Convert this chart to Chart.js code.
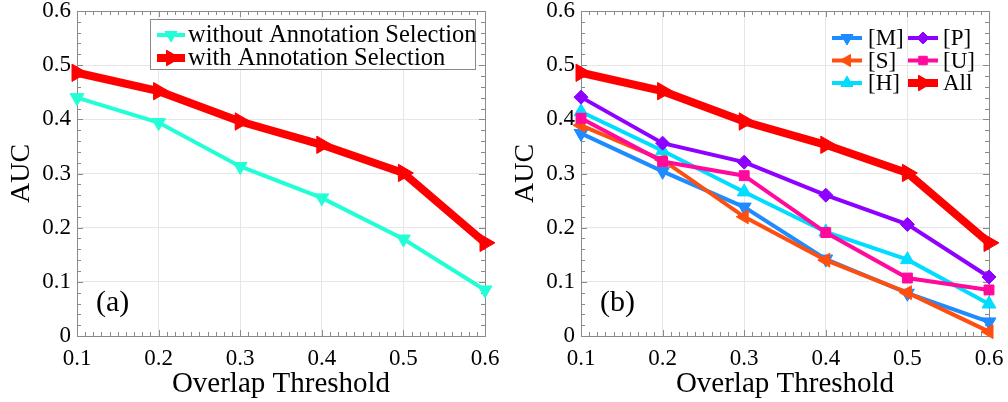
<!DOCTYPE html>
<html>
<head>
<meta charset="utf-8">
<script src="https://cdn.jsdelivr.net/npm/chart.js@4/dist/chart.umd.min.js"></script>
<style>
  html, body { margin: 0; padding: 0; background: #fff; }
  #wrap { position: relative; width: 1008px; height: 402px; }
  .panel { position: absolute; top: 0; width: 504px; height: 402px; }
</style>
</head>
<body>
<div id="wrap">
  <div class="panel" style="left:0"><canvas id="ca" width="504" height="402"></canvas></div>
  <div class="panel" style="left:504px"><canvas id="cb" width="504" height="402"></canvas></div>
</div>
<script>
// ---- data ----
const thresholds = [0.1, 0.2, 0.3, 0.4, 0.5, 0.6];
const xTickLabels = ['0.1', '0.2', '0.3', '0.4', '0.5', '0.6'];
const yTickLabels = ['0', '0.1', '0.2', '0.3', '0.4', '0.5', '0.6'];
const withoutSel = [0.440, 0.394, 0.313, 0.255, 0.179, 0.085];
const withSel    = [0.486, 0.452, 0.396, 0.353, 0.301, 0.172];
const seriesM    = [0.374, 0.304, 0.238, 0.142, 0.079, 0.026];
const seriesS    = [0.389, 0.325, 0.220, 0.140, 0.080, 0.008];
const seriesH    = [0.414, 0.342, 0.266, 0.192, 0.141, 0.059];
const seriesP    = [0.441, 0.356, 0.321, 0.260, 0.206, 0.109];
const seriesU    = [0.402, 0.322, 0.296, 0.191, 0.107, 0.085];
const seriesAll  = [0.486, 0.452, 0.396, 0.353, 0.301, 0.172];

const FONT = '"Liberation Serif", "DejaVu Serif", serif';
const pts = arr => arr.map((v, i) => ({ x: thresholds[i], y: v }));

function ds(label, arr, color, width, style, rot, r, order) {
  return {
    label, data: pts(arr), borderColor: color, backgroundColor: color,
    borderWidth: width, pointStyle: style, rotation: rot, pointRadius: r,
    pointHoverRadius: r, pointBorderWidth: 1, pointBorderColor: color,
    pointBackgroundColor: color, tension: 0, clip: false, order
  };
}

// frame + inside ticks
const framePlugin = {
  id: 'frame',
  beforeDatasetsDraw(chart) {
    const { ctx, chartArea: a, scales: { x, y } } = chart;
    ctx.save();
    ctx.strokeStyle = '#8a8a8a';
    ctx.lineWidth = 1;
    ctx.beginPath();
    for (let k = 0; k <= 50; k++) {
      const v = 0.1 + k * 0.01;
      const px = Math.round(x.getPixelForValue(v)) + 0.5;
      const len = (k % 10 === 0) ? 6 : 4;
      ctx.moveTo(px, a.bottom); ctx.lineTo(px, a.bottom - len);
      ctx.moveTo(px, a.top); ctx.lineTo(px, a.top + len);
    }
    for (let k = 0; k <= 30; k++) {
      const v = k * 0.02;
      const py = Math.round(y.getPixelForValue(v)) + 0.5;
      const len = (k % 5 === 0) ? 6 : 4;
      ctx.moveTo(a.left, py); ctx.lineTo(a.left + len, py);
      ctx.moveTo(a.right, py); ctx.lineTo(a.right - len, py);
    }
    ctx.stroke();
    ctx.strokeRect(Math.round(a.left) + 0.5, Math.round(a.top) + 0.5,
                   Math.round(a.right - a.left), Math.round(a.bottom - a.top));
    ctx.restore();
  }
};

function drawMarker(ctx, style, rot, r, x, y, color) {
  ctx.save();
  ctx.fillStyle = color; ctx.strokeStyle = color; ctx.lineWidth = 1;
  Chart.helpers.drawPoint(ctx, { pointStyle: style, rotation: rot, radius: r, borderWidth: 1 }, x, y);
  ctx.restore();
}

function legendItem(ctx, x0, x1, y, color, lw, style, rot, r, text, tx, fontSize) {
  ctx.save();
  ctx.strokeStyle = color; ctx.lineWidth = lw; ctx.lineCap = 'butt';
  ctx.beginPath(); ctx.moveTo(x0, y); ctx.lineTo(x1, y); ctx.stroke();
  ctx.restore();
  drawMarker(ctx, style, rot, r, (x0 + x1) / 2, y, color);
  ctx.save();
  ctx.fillStyle = '#000';
  ctx.font = fontSize + 'px ' + FONT;
  ctx.textBaseline = 'middle';
  ctx.textAlign = 'left';
  ctx.fillText(text, tx, y + 1);
  ctx.restore();
}

function panelLabel(chart, text) {
  const { ctx, chartArea: a } = chart;
  ctx.save();
  ctx.fillStyle = '#000';
  ctx.font = '30px ' + FONT;
  ctx.textBaseline = 'middle';
  ctx.fillText(text, a.left + 19, a.bottom - 33);
  ctx.restore();
}

const legendA = {
  id: 'legendA',
  afterDraw(chart) {
    const { ctx, chartArea: a } = chart;
    const L = a.left + 73, T = a.top + 8, R = a.right - 10, B = T + 50;
    ctx.save();
    ctx.fillStyle = '#fff';
    ctx.fillRect(L, T, R - L, B - T);
    ctx.strokeStyle = '#8a8a8a'; ctx.lineWidth = 1;
    ctx.strokeRect(L + 0.5, T + 0.5, R - L, B - T);
    ctx.restore();
    legendItem(ctx, L + 7, L + 35, T + 16, '#22FFD6', 4, 'triangle', 180, 7, 'without Annotation Selection', L + 38, 24.5);
    legendItem(ctx, L + 7, L + 35, T + 39, '#FF0000', 8, 'triangle', 90, 9, 'with Annotation Selection', L + 38, 24.5);
    panelLabel(chart, '(a)');
  }
};

const legendB = {
  id: 'legendB',
  afterDraw(chart) {
    const { ctx, chartArea: a } = chart;
    const c1 = a.left + 251, c2 = a.left + 327, r0 = a.top + 27, dr = 22.5;
    legendItem(ctx, c1, c1 + 30, r0,          '#1E8CFF', 4, 'triangle', 180, 7, '[M]', c1 + 36, 23);
    legendItem(ctx, c1, c1 + 30, r0 + dr,     '#FF4F0F', 4, 'triangle', 270, 7, '[S]', c1 + 36, 23);
    legendItem(ctx, c1, c1 + 30, r0 + 2 * dr, '#00DDFF', 4, 'triangle', 0, 7,   '[H]', c1 + 36, 23);
    legendItem(ctx, c2, c2 + 30, r0,          '#8E00FF', 4, 'rectRot', 0, 6,    '[P]', c2 + 35, 23);
    legendItem(ctx, c2, c2 + 30, r0 + dr,     '#FF0A9C', 4, 'rect', 0, 6,       '[U]', c2 + 35, 23);
    legendItem(ctx, c2, c2 + 30, r0 + 2 * dr, '#FF0000', 8, 'triangle', 90, 9,  'All', c2 + 35, 23);
    panelLabel(chart, '(b)');
  }
};

function options() {
  return {
    responsive: false,
    animation: false,
    layout: { padding: { top: 10, right: 19, left: 0, bottom: 0 } },
    plugins: { legend: { display: false }, tooltip: { enabled: false } },
    scales: {
      x: {
        type: 'linear', min: 0.1, max: 0.6,
        afterFit(s) { s.height = 66; s.paddingLeft = 0; s.paddingRight = 0; },
        afterBuildTicks(s) { s.ticks = thresholds.map(v => ({ value: v })); },
        ticks: {
          padding: 9, color: '#000', maxRotation: 0, autoSkip: false,
          font: { family: FONT, size: 23 },
          callback: (v) => xTickLabels[thresholds.findIndex(t => Math.abs(t - v) < 1e-6)]
        },
        grid: { color: '#e6e6e6', drawTicks: false, lineWidth: 1 },
        border: { display: false },
        title: { display: true, text: 'Overlap Threshold', color: '#000',
                 font: { family: FONT, size: 29 }, padding: { top: 0, bottom: 0 } }
      },
      y: {
        type: 'linear', min: 0, max: 0.6,
        afterFit(s) { s.width = 77; s.paddingTop = 0; s.paddingBottom = 0; },
        afterBuildTicks(s) { s.ticks = yTickLabels.map((t, i) => ({ value: i / 10 })); },
        ticks: {
          padding: 6, color: '#000', autoSkip: false,
          font: { family: FONT, size: 23 },
          callback: (v) => yTickLabels[Math.round(v * 10)]
        },
        grid: { color: '#e6e6e6', drawTicks: false, lineWidth: 1 },
        border: { display: false },
        title: { display: true, text: 'AUC', color: '#000',
                 font: { family: FONT, size: 28 }, padding: { top: 5, bottom: 0 } }
      }
    }
  };
}

new Chart(document.getElementById('ca'), {
  type: 'line',
  data: { datasets: [
    ds('without Annotation Selection', withoutSel, '#22FFD6', 4, 'triangle', 180, 8, 2),
    ds('with Annotation Selection', withSel, '#FF0000', 8, 'triangle', 90, 10, 1)
  ] },
  options: options(),
  plugins: [framePlugin, legendA]
});

new Chart(document.getElementById('cb'), {
  type: 'line',
  data: { datasets: [
    ds('[M]', seriesM, '#1E8CFF', 4, 'triangle', 180, 8, 6),
    ds('[S]', seriesS, '#FF4F0F', 4, 'triangle', 270, 8, 5),
    ds('[H]', seriesH, '#00DDFF', 4, 'triangle', 0, 8, 4),
    ds('[P]', seriesP, '#8E00FF', 4, 'rectRot', 0, 7, 3),
    ds('[U]', seriesU, '#FF0A9C', 4, 'rect', 0, 7, 2),
    ds('All', seriesAll, '#FF0000', 8, 'triangle', 90, 10, 1)
  ] },
  options: options(),
  plugins: [framePlugin, legendB]
});
</script>
</body>
</html>
